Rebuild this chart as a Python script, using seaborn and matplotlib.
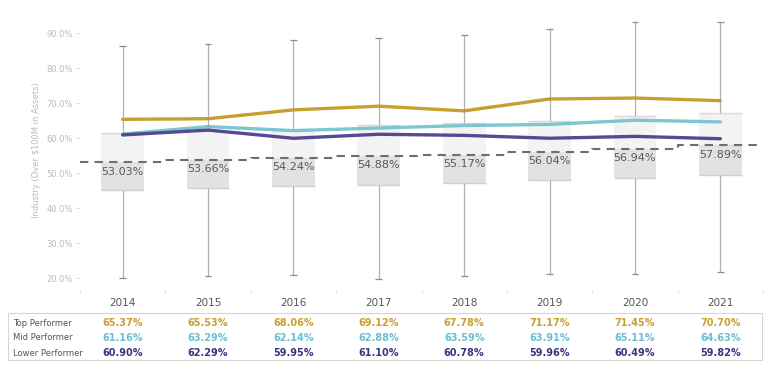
import numpy as np
import pandas as pd
import matplotlib
matplotlib.use('Agg')
import matplotlib.pyplot as plt
import seaborn as sns
from matplotlib.patches import Rectangle

# ======================================================================
# data
years = ['2014', '2015', '2016', '2017', '2018', '2019', '2020', '2021']
whisk_lo = [20.0, 20.5, 20.9, 19.7, 20.7, 21.1, 21.1, 21.8]
q1 = [45.1, 45.8, 46.2, 46.5, 47.3, 47.9, 48.6, 49.6]
medians = [53.03, 53.66, 54.24, 54.88, 55.17, 56.04, 56.94, 57.89]
q3 = [61.4, 62.0, 62.4, 63.7, 64.2, 64.9, 66.2, 67.3]
whisk_hi = [86.3, 87.0, 87.9, 88.6, 89.5, 91.1, 93.3, 93.3]
top_perf = [65.37, 65.53, 68.06, 69.12, 67.78, 71.17, 71.45, 70.70]
mid_perf = [61.16, 63.29, 62.14, 62.88, 63.59, 63.91, 65.11, 64.63]
low_perf = [60.90, 62.29, 59.95, 61.10, 60.78, 59.96, 60.49, 59.82]
# ======================================================================

sns.set_style('white')
plt.rcParams['font.family'] = ['DejaVu Sans']

c_top = '#C49A22'
c_mid = '#76C4CF'
c_low = '#4E3F8F'

fig = plt.figure(figsize=(7.7, 3.69), dpi=100)
ax = fig.add_axes([80 / 770, 1 - 290 / 369, 683 / 770, 280 / 369])

x = np.arange(len(years))
w = 0.5
# two-tone boxes (lower half darker, upper half lighter)
ax.bar(x, np.array(medians) - np.array(q1), bottom=q1, width=w,
       color='#E2E2E2', edgecolor='none', zorder=1)
ax.bar(x, np.array(q3) - np.array(medians), bottom=medians, width=w,
       color='#F3F3F3', edgecolor='none', zorder=1)
ax.hlines(q3, x - w / 2, x + w / 2, color='#D8D8D8', lw=1, zorder=1)
ax.hlines(q1, x - w / 2, x + w / 2, color='#D0D0D0', lw=1, zorder=1)
# whiskers
ax.vlines(x, whisk_lo, q1, color='#B0B0B0', lw=0.9, zorder=2)
ax.vlines(x, q3, whisk_hi, color='#B0B0B0', lw=0.9, zorder=2)
ax.hlines(whisk_lo, x - 0.04, x + 0.04, color='#8C8C8C', lw=0.9, zorder=2)
ax.hlines(whisk_hi, x - 0.04, x + 0.04, color='#8C8C8C', lw=0.9, zorder=2)

# dashed median step line spanning each category
xs = np.append(x - 0.5, x[-1] + 0.5)
ys = medians + [medians[-1]]
ax.plot(xs, ys, drawstyle='steps-post', color='#6E6E6E', lw=1.5,
        dashes=(4, 3), zorder=3)
for i, m in enumerate(medians):
    ax.annotate('%.2f%%' % m, (i, m), xytext=(0, -3), textcoords='offset points',
                ha='center', va='top', fontsize=8, color='#5A5A5A', zorder=4)

# performer lines
df = pd.DataFrame({'x': np.tile(x, 3),
                   'val': top_perf + mid_perf + low_perf,
                   'grp': ['Top'] * 8 + ['Mid'] * 8 + ['Lower'] * 8})
sns.lineplot(data=df, x='x', y='val', hue='grp', ax=ax, lw=2.4,
             palette={'Top': c_top, 'Mid': c_mid, 'Lower': c_low},
             legend=False, zorder=5, alpha=0.95)

ax.set_xlim(-0.5, 7.5)
ax.set_ylim(16.6, 96.6)
ax.set_yticks(np.arange(20, 91, 10))
ax.set_yticklabels(['%.1f%%' % v for v in np.arange(20, 91, 10)],
                   fontsize=6, color='#BBBBBB')
ax.tick_params(axis='y', length=3, color='#DDDDDD', pad=2, left=True)
ax.set_xticks(x)
ax.set_xticklabels(years, fontsize=7.5, color='#555555')
ax.tick_params(axis='x', length=0, pad=6)
ax.set_xticks(np.arange(-0.5, 8, 1), minor=True)
ax.tick_params(axis='x', which='minor', length=3, color='#DDDDDD', bottom=True)
ax.set_xlabel('')
ax.set_ylabel('Industry (Over $100M in Assets)', fontsize=6, color='#BBBBBB', labelpad=4)
for s in ax.spines.values():
    s.set_visible(False)

# table underneath
fig.patches.append(Rectangle((8 / 770, 1 - 360 / 369), 754 / 770, 47 / 369,
                             transform=fig.transFigure, fill=False,
                             edgecolor='#D5D5D5', lw=0.8))
rows = [('Top Performer', top_perf, '#C9A030'),
        ('Mid Performer', mid_perf, '#6BBFD0'),
        ('Lower Performer', low_perf, '#3D3380')]
for r, (name, vals, col) in enumerate(rows):
    yy = 1 - (323 + 15 * r) / 369
    fig.text(13 / 770, yy, name, fontsize=6, color='#555555', va='center')
    for i, v in enumerate(vals):
        xx = (80 + 683 * (i + 0.5) / 8) / 770
        fig.text(xx, yy, '%.2f%%' % v, fontsize=7, color=col,
                 fontweight='bold', ha='center', va='center')

plt.savefig('out.png', dpi=100)
